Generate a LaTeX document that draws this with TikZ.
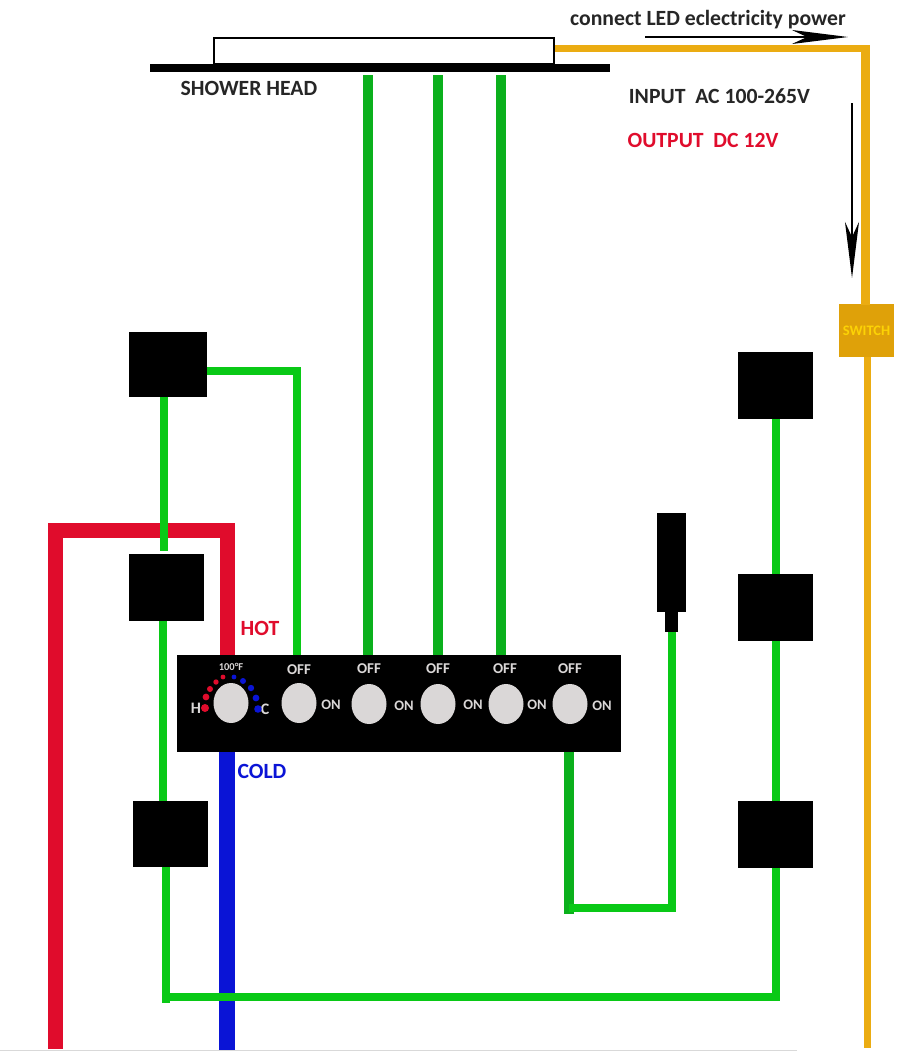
\documentclass[tikz,border=0pt]{standalone}
\usepackage{xcolor}
\usepackage{fontspec}
\setmainfont{Carlito}
\usepackage{tikz}
\usetikzlibrary{arrows.meta, shapes.geometric}
\definecolor{wiregreen}{HTML}{09C916}
\definecolor{stemgreen}{HTML}{0BB01C}
\definecolor{hotred}{HTML}{E00C2C}
\definecolor{coldblue}{HTML}{0A14D6}
\definecolor{powerorange}{HTML}{EBAC12}
\definecolor{switchbox}{HTML}{DFA109}
\definecolor{knobgray}{HTML}{DAD7D7}
\tikzstyle{arrow}    = [-{Stealth[length=56pt,width=14pt,inset=15pt]}]

\begin{document}
\begin{tikzpicture}[
    x=1pt,y=-1pt,
    lamp/.style={fill=black,draw=none,inner sep=0pt,minimum width=76pt,minimum height=66pt},
    knob/.style={ellipse,fill=knobgray,draw=none,inner sep=0pt,minimum width=35pt,minimum height=40pt},
    lbl/.style={inner sep=0pt,font=\bfseries\fontsize{21.7}{24}\selectfont},
    offlbl/.style={inner sep=0pt,text=knobgray,font=\bfseries\fontsize{15}{17}\selectfont},
    onlbl/.style={inner sep=0pt,text=knobgray,font=\bfseries\fontsize{14.5}{17}\selectfont},
    wire/.style={wiregreen,line width=8pt},
    stem/.style={stemgreen,line width=10pt},
    hotwire/.style={hotred,line width=15pt},
    coldwire/.style={coldblue,line width=16pt},
    power/.style={powerorange,line width=7pt},
  ]
  \useasboundingbox (0,0) rectangle (899,1055);
  \fill[white] (0,0) rectangle (899,1055);
  \draw[black!15,line width=1pt] (0,1050) -- (797,1050);

  % free wire ends
  \coordinate (hotend) at (55,1049);
  \coordinate (coldend) at (227,1050);
  \coordinate (powerend) at (867,1048);

  % shower head
  \node[draw=black,line width=1.8pt,inner sep=0pt,minimum width=340pt,minimum height=26pt] (tube) at (384,51) {};
  \node[fill=black,inner sep=0pt,minimum width=460pt,minimum height=8pt] (bar) at (380,68) {};
  \node[lbl,text=black!85] (head) at (249,88) {SHOWER HEAD};

  % lamps and sensor
  \node[lamp,minimum width=78pt,minimum height=65pt] (lampa) at (168,364.5) {};
  \node[lamp,minimum width=75pt,minimum height=67pt] (lampb) at (166.5,587.5) {};
  \node[lamp,minimum width=75pt,minimum height=66pt] (lampc) at (170.5,834) {};
  \node[lamp,minimum width=75pt,minimum height=67pt] (lampd) at (775.5,385.5) {};
  \node[lamp,minimum width=75pt,minimum height=67pt] (lampe) at (775.5,607.5) {};
  \node[lamp,minimum width=75pt,minimum height=67pt] (lampf) at (775.5,834.5) {};
  \node[fill=black,inner sep=0pt,minimum width=29pt,minimum height=99pt] (sensor) at (671.5,562.5) {};
  \node[fill=black,inner sep=0pt,minimum width=13pt,minimum height=20pt] (sensortip) at (671.5,622) {};

  % control panel
  \node[fill=black,inner sep=0pt,minimum width=444pt,minimum height=97pt] (panel) at (399,703.5) {};

  % hot and cold
  \draw[hotwire] (hotend) -- (55,530) -- (227,530) -- (227,655);
  \draw[coldwire] (227,752) -- (coldend);
  \node[lbl,text=hotred] (hot) at (260,628) {HOT};
  \node[lbl,text=coldblue] (cold) at (262,771) {COLD};

  % green wiring
  \draw[wire] (164,397) -- (164,551);
  \draw[wire] (163,621) -- (163,801);
  \draw[wire] (166,867) -- (166,1003);
  \draw[wire] (162,997) -- (lampf.south |- 0,997) -- (lampf.south);
  \draw[wire] (lampf.north) -- (lampe.south);
  \draw[wire] (lampe.north) -- (lampd.south);
  \draw[wire] (lampa.east |- 0,371) -- (297,371) -- (297,655);
  \foreach \x in {368,438,501}
    \draw[wire,stemgreen,line width=10pt] (\x,75) -- (\x,655);
  \draw[stem] (569,752) -- (569,914);
  \draw[wire] (569,908) -- (672,908) -- (672,632);

  % knobs
  \foreach \name/\x/\y in {ka/231/703,kb/299/703,kc/369/704,kd/438/704,ke/506/704,kf/570/704}
    \node[knob] (\name) at (\x,\y) {};
  \foreach \x/\y in {299/670,369/669,438/669,505/669,570/669}
    \node[offlbl] at (\x,\y) {OFF};
  \foreach \x/\y in {331/705,404/706,473/705,537/705,602/706}
    \node[onlbl] at (\x,\y) {ON};
  \node[offlbl,font=\bfseries\fontsize{10.5}{12}\selectfont] (temp) at (231,667) {100°F};
  \node[offlbl,font=\bfseries\fontsize{16}{18}\selectfont] (hletter) at (196,708) {H};
  \node[offlbl,font=\bfseries\fontsize{16}{18}\selectfont] (cletter) at (265,709) {C};
  \foreach \x/\y/\r in {205/708/4,206/697/3.4,210/689/3,216/682/2.7,223/677/2.4}
    \fill[hotred] (\x,\y) circle (\r pt);
  \foreach \x/\y/\r in {234/677/2.4,243/681/3,251/688/3.2,256/698/3.4,258/709/3.8}
    \fill[coldblue] (\x,\y) circle (\r pt);

  % power line
  \node[fill=switchbox,inner sep=0pt,minimum width=55pt,minimum height=53pt,text=yellow!70!orange,
    font=\bfseries\fontsize{14.5}{16}\selectfont] (switch) at (866.5,330.5) {SWITCH};
  \draw[power] (tube.east |- 0,48) -- (869,48);
  \draw[powerorange,line width=9pt] (865,45) -- (865,305);
  \draw[power] (867,357) -- (powerend);
  \node[lbl,text=black!85] (connect) at (708,20) {connect LED eclectricity power};
  \node[lbl,text=black!85] (input) at (719.5,96) {INPUT\ \ AC 100-265V};
  \node[lbl,text=hotred] (output) at (703,140) {OUTPUT\ \ DC 12V};
  \coordinate (flowa) at (645,37);
  \coordinate (flowb) at (848,37);
  \coordinate (flowc) at (852,103);
  \coordinate (flowd) at (852,278);
  \draw[arrow,line width=1.8pt] (flowa) -- (flowb);
  \draw[arrow,line width=2.4pt] (flowc) -- (flowd);
\end{tikzpicture}
\end{document}
